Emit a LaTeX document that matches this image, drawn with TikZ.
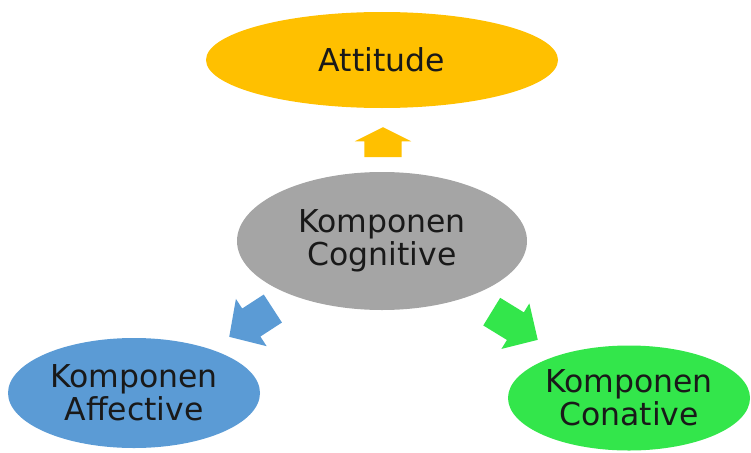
\documentclass[tikz,border=0pt]{standalone}
\usepackage{fontspec}
\setmainfont{DejaVu Sans}
\usetikzlibrary{shapes.geometric,shapes.arrows}
\definecolor{attgold}{HTML}{FFC000}
\definecolor{coggray}{HTML}{A5A5A5}
\definecolor{affblue}{HTML}{5B9BD5}
\definecolor{congreen}{HTML}{33E64B}
\begin{document}
\begin{tikzpicture}[x=1pt,y=-1pt,
  bubble/.style={ellipse, draw=none, inner sep=0pt, align=center,
    font=\fontsize{31.5}{33}\selectfont, text=black!90},
  % shaft width = 2 * inner ysep (the arrow carries no text)
  blockarrow/.style={single arrow, draw=none, inner xsep=0pt, anchor=tip},
]
\useasboundingbox (0,0) rectangle (751,452);

% the four components
\node[bubble, fill=attgold, minimum width=352pt, minimum height=96pt]
  (att) at (382,60) {Attitude};
\node[bubble, fill=coggray, minimum width=290pt, minimum height=138pt]
  (cog) at (382,241) {Komponen\\Cognitive};
\node[bubble, fill=affblue, minimum width=252pt, minimum height=110pt]
  (aff) at (134,393) {Komponen\\Affective};
\node[bubble, fill=congreen, minimum width=242pt, minimum height=105pt]
  (con) at (629,398) {Komponen\\Conative};

% block arrows leading out of the cognitive component
\node[blockarrow, fill=attgold, rotate=90, minimum height=30pt,
  inner ysep=18.5pt, single arrow head extend=9.5pt,
  single arrow tip angle=127] (upar) at (383,127) {};
\node[blockarrow, fill=affblue, rotate=213, minimum height=52pt,
  inner ysep=16.5pt, single arrow head extend=11.5pt,
  single arrow tip angle=94] (leftar) at (229,337) {};
\node[blockarrow, fill=congreen, rotate=-31.5, minimum height=54pt,
  inner ysep=16pt, single arrow head extend=10.5pt,
  single arrow tip angle=91] (rightar) at (538,340) {};
\end{tikzpicture}
\end{document}
